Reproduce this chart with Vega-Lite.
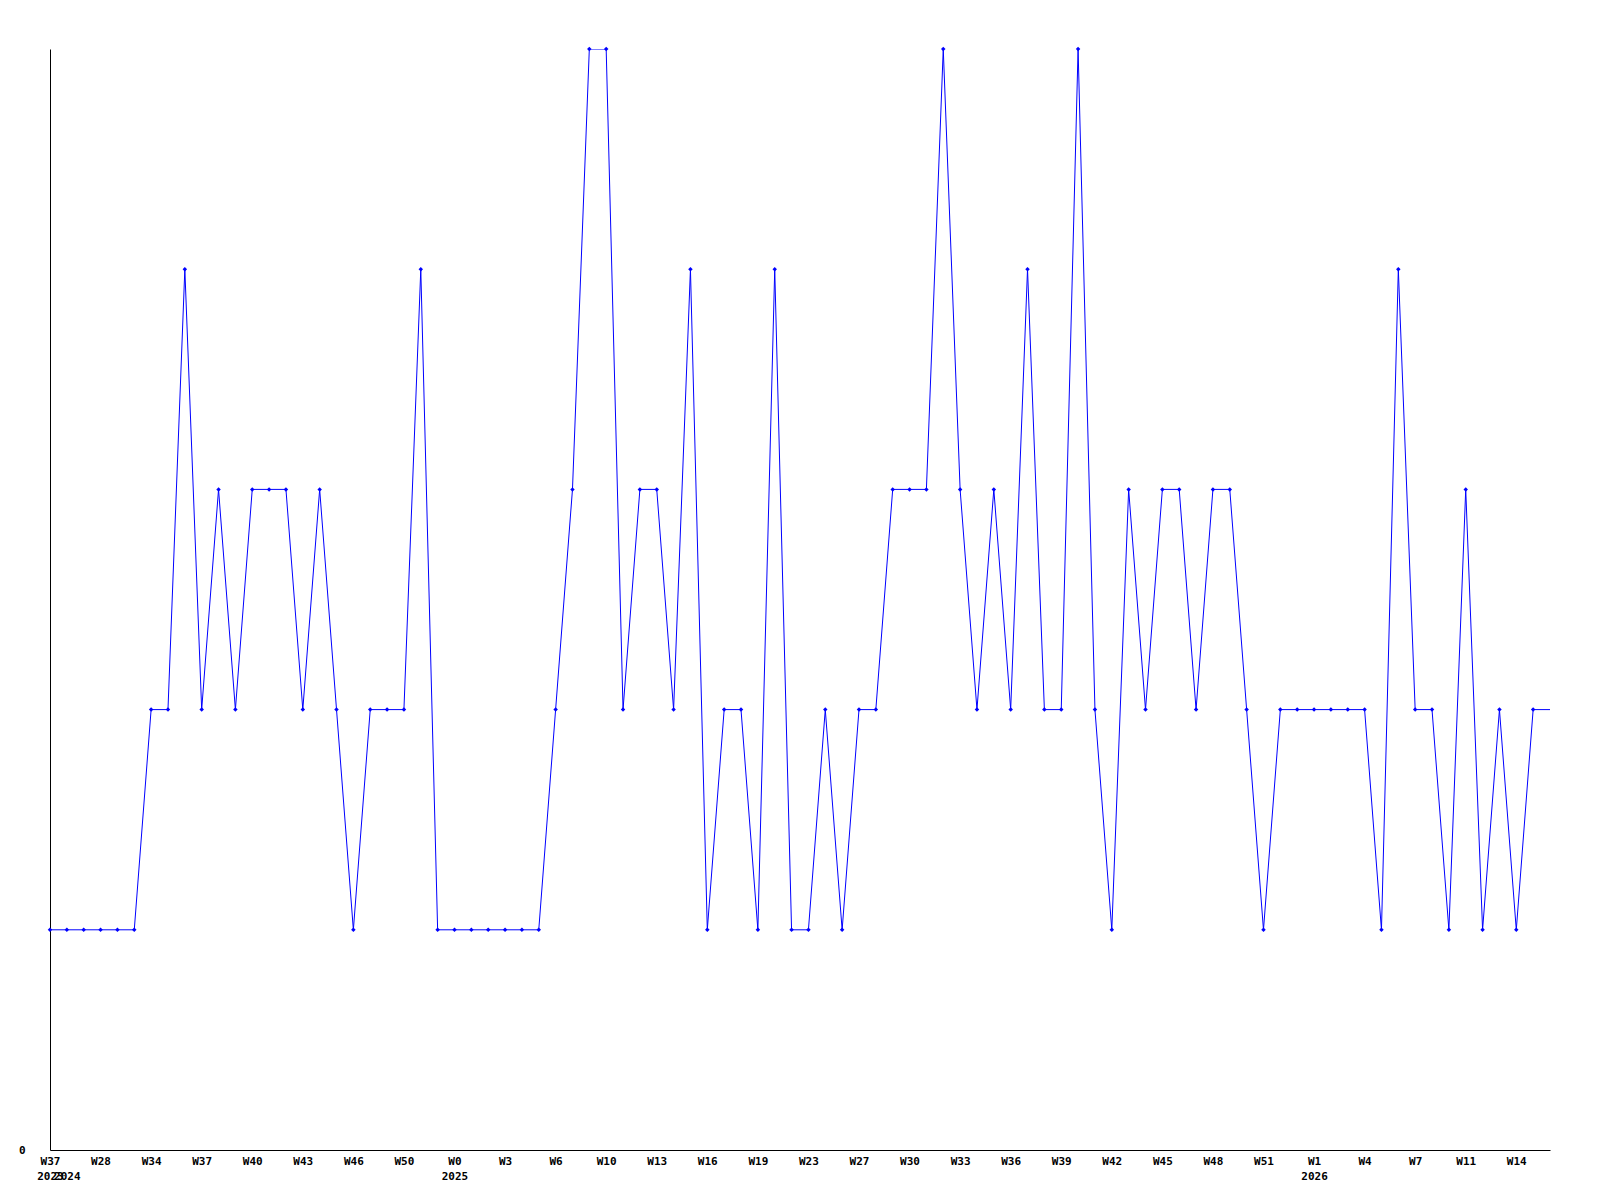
{
  "$schema": "https://vega.github.io/schema/vega-lite/v6.json",
  "autosize": {"type": "none"},
  "padding": {"left": 50, "top": 49, "right": 50, "bottom": 50},
  "width": 1500,
  "height": 1101,
  "background": "white",
  "config": {"view": {"stroke": null}},
  "data": {"values": [
    {"i":0,"v":1},{"i":1,"v":1},{"i":2,"v":1},{"i":3,"v":1},{"i":4,"v":1},{"i":5,"v":1},
    {"i":6,"v":2},{"i":7,"v":2},{"i":8,"v":4},{"i":9,"v":2},{"i":10,"v":3},{"i":11,"v":2},
    {"i":12,"v":3},{"i":13,"v":3},{"i":14,"v":3},{"i":15,"v":2},{"i":16,"v":3},{"i":17,"v":2},
    {"i":18,"v":1},{"i":19,"v":2},{"i":20,"v":2},{"i":21,"v":2},{"i":22,"v":4},{"i":23,"v":1},
    {"i":24,"v":1},{"i":25,"v":1},{"i":26,"v":1},{"i":27,"v":1},{"i":28,"v":1},{"i":29,"v":1},
    {"i":30,"v":2},{"i":31,"v":3},{"i":32,"v":5},{"i":33,"v":5},{"i":34,"v":2},{"i":35,"v":3},
    {"i":36,"v":3},{"i":37,"v":2},{"i":38,"v":4},{"i":39,"v":1},{"i":40,"v":2},{"i":41,"v":2},
    {"i":42,"v":1},{"i":43,"v":4},{"i":44,"v":1},{"i":45,"v":1},{"i":46,"v":2},{"i":47,"v":1},
    {"i":48,"v":2},{"i":49,"v":2},{"i":50,"v":3},{"i":51,"v":3},{"i":52,"v":3},{"i":53,"v":5},
    {"i":54,"v":3},{"i":55,"v":2},{"i":56,"v":3},{"i":57,"v":2},{"i":58,"v":4},{"i":59,"v":2},
    {"i":60,"v":2},{"i":61,"v":5},{"i":62,"v":2},{"i":63,"v":1},{"i":64,"v":3},{"i":65,"v":2},
    {"i":66,"v":3},{"i":67,"v":3},{"i":68,"v":2},{"i":69,"v":3},{"i":70,"v":3},{"i":71,"v":2},
    {"i":72,"v":1},{"i":73,"v":2},{"i":74,"v":2},{"i":75,"v":2},{"i":76,"v":2},{"i":77,"v":2},
    {"i":78,"v":2},{"i":79,"v":1},{"i":80,"v":4},{"i":81,"v":2},{"i":82,"v":2},{"i":83,"v":1},
    {"i":84,"v":3},{"i":85,"v":1},{"i":86,"v":2},{"i":87,"v":1},{"i":88,"v":2},{"i":89,"v":2}
  ]},
  "encoding": {
    "x": {
      "field": "i", "type": "quantitative",
      "scale": {"domain": [0, 89], "nice": false, "zero": false},
      "axis": {
        "title": null, "grid": false, "ticks": false,
        "domainColor": "black", "domainWidth": 1,
        "values": [0,1,3,6,9,12,15,18,21,24,27,30,33,36,39,42,45,48,51,54,57,60,63,66,69,72,75,78,81,84,87],
        "labelExpr": "datum.value % 3 == 0 ? [['W37','W28','W34','W37','W40','W43','W46','W50','W0','W3','W6','W10','W13','W16','W19','W23','W27','W30','W33','W36','W39','W42','W45','W48','W51','W1','W4','W7','W11','W14'][datum.value/3], datum.value==0 ? '2023' : datum.value==24 ? '2025' : datum.value==75 ? '2026' : ''] : ['', '2024']",
        "labelOverlap": false,
        "labelFont": "DejaVu Sans Mono", "labelFontWeight": "bold", "labelFontSize": 11,
        "labelColor": "black", "labelPadding": 5, "labelLineHeight": 15,
        "labelAlign": "center", "labelBound": false, "labelFlush": false
      }
    },
    "y": {
      "field": "v", "type": "quantitative",
      "scale": {"domain": [0, 5], "nice": false},
      "axis": {
        "title": null, "grid": false, "ticks": false, "values": [0],
        "domainColor": "black", "domainWidth": 1,
        "labelFont": "DejaVu Sans Mono", "labelFontWeight": "bold", "labelFontSize": 11,
        "labelColor": "black", "labelPadding": 25
      }
    }
  },
  "layer": [
    {"mark": {"type": "line", "color": "#0000ff", "strokeWidth": 1, "clip": true}},
    {
      "transform": [{"filter": "datum.i < 89"}],
      "mark": {"type": "point", "shape": "diamond", "filled": true, "color": "#0000ff", "size": 20, "opacity": 1}
    }
  ]
}
